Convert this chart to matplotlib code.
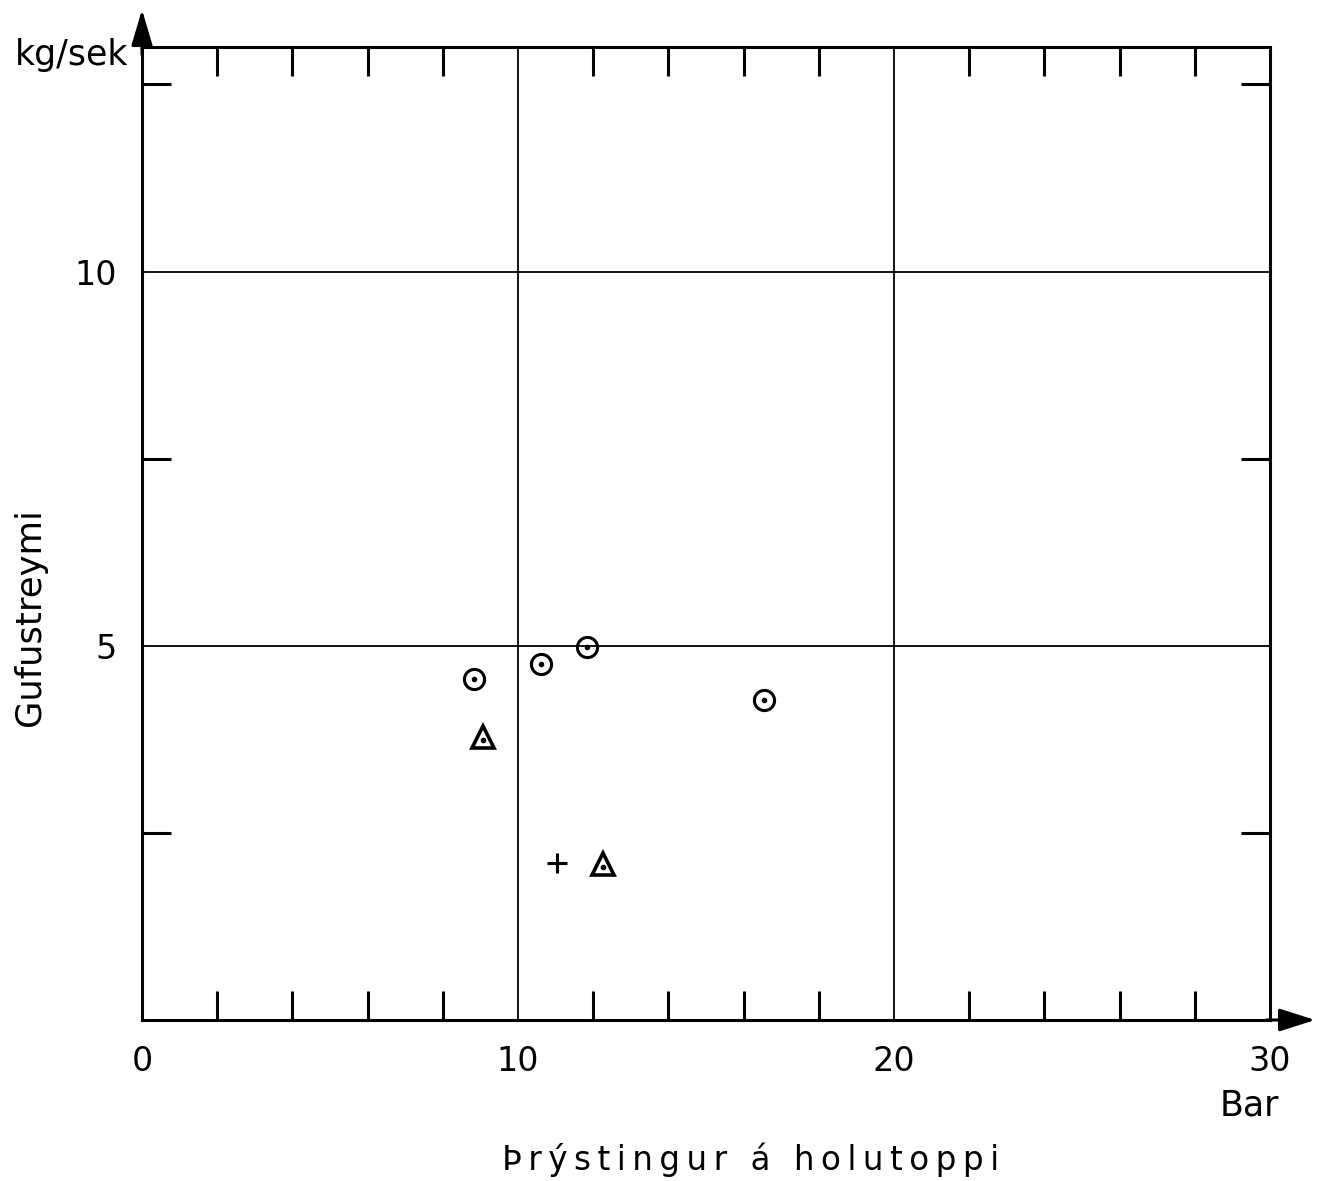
import matplotlib.pyplot as plt

# gufustreymi vs. þrýstingur á holutoppi
circle_x = [8.83, 10.61, 11.84, 16.54]
circle_y = [4.56, 4.76, 4.99, 4.27]
tri_x = [9.07, 12.26]
tri_y = [3.78, 2.08]
plus_x = [11.04]
plus_y = [2.10]

x_ticks = [0, 10, 20, 30]
x_ticklabels = ['0', '10', '20', '30']
y_ticks = [5, 10]
y_ticklabels = ['5', '10']

plt.rcParams['font.family'] = ['DejaVu Sans']


def spaced(s, sep='\u2009'):
    # gisin letur eins og á upprunalegu myndinni
    return sep.join(s)


fig = plt.figure(figsize=(13.24, 11.81), dpi=100)
ax = fig.add_axes([142 / 1324, 1 - 1020 / 1181, (1270 - 142) / 1324, (1020 - 47) / 1181])
ax.set_xlim(0, 30)
ax.set_ylim(0, 13)

# grid
for gx in [10, 20]:
    ax.axvline(gx, color='black', lw=1.3, zorder=1)
for gy in [5, 10]:
    ax.axhline(gy, color='black', lw=1.3, zorder=1)

for s in ax.spines.values():
    s.set_linewidth(2.2)

ax.set_xticks(x_ticks)
ax.set_xticklabels(x_ticklabels)
ax.set_yticks(y_ticks)
ax.set_yticklabels(y_ticklabels)
ax.set_xticks([2, 4, 6, 8, 12, 14, 16, 18, 22, 24, 26, 28], minor=True)
ax.set_yticks([2.5, 7.5, 12.5], minor=True)
ax.tick_params(axis='both', which='major', length=0, labelsize=24, pad=18)
ax.tick_params(axis='both', which='minor', direction='in', length=21, width=2.2,
               top=True, right=True)

# mælipunktar
ax.plot(circle_x, circle_y, 'o', ms=14.5, mfc='none', mec='black', mew=2.2, zorder=3)
ax.plot(circle_x, circle_y, 'o', ms=3, color='black', zorder=3)
ax.plot(tri_x, tri_y, '^', ms=15.5, mfc='none', mec='black', mew=2.6, zorder=3)
ax.plot(tri_x, [v - 0.04 for v in tri_y], 'o', ms=3, color='black', zorder=3)
ax.plot(plus_x, plus_y, '+', ms=14, mec='black', mew=2.2, zorder=3)

# örvar á ásum
ax.annotate('', xy=(0, 13.5), xytext=(0, 12.9), annotation_clip=False,
            arrowprops=dict(arrowstyle='-|>,head_length=2.2,head_width=0.65',
                            color='black', lw=2.2, shrinkA=0, shrinkB=0))
ax.annotate('', xy=(31.2, 0), xytext=(29.9, 0), annotation_clip=False,
            arrowprops=dict(arrowstyle='-|>,head_length=2.2,head_width=0.7',
                            color='black', lw=2.2, shrinkA=0, shrinkB=0))

fig.text(72 / 1324, 1 - 55 / 1181, 'kg/sek', fontsize=25, ha='center', va='center')
fig.text(1249 / 1324, 1 - 1106 / 1181, 'Bar', fontsize=25, ha='center', va='center')
fig.text(751 / 1324, 1 - 1160 / 1181, spaced('Þrýstingur á holutoppi'), fontsize=23.5,
         ha='center', va='center')
fig.text(30 / 1324, 1 - 617 / 1181, 'Gufustreymi', fontsize=25.5, rotation=90,
         ha='center', va='center')

fig.savefig('out.png', dpi=100)
